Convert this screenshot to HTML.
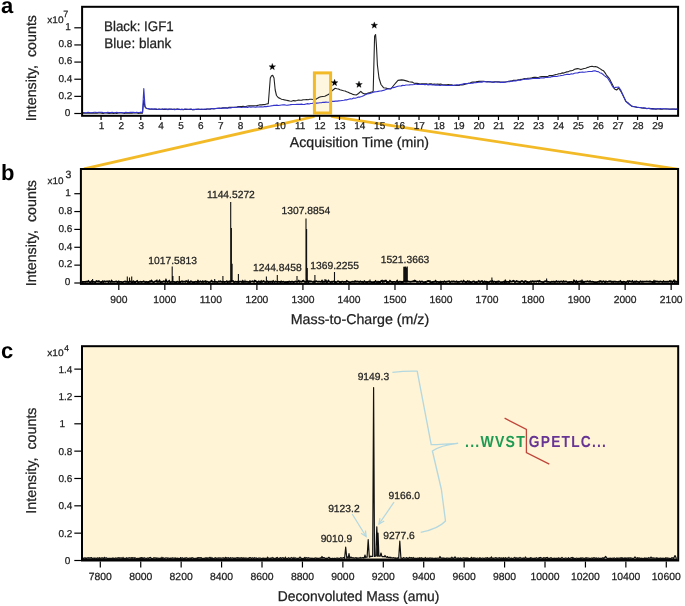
<!DOCTYPE html>
<html><head><meta charset="utf-8"><style>
html,body{margin:0;padding:0;background:#fff;}
body{width:685px;height:606px;overflow:hidden;}
svg{display:block;will-change:transform;}
text{font-family:"Liberation Sans",sans-serif;text-rendering:geometricPrecision;}
</style></head><body>
<svg width="685" height="606" viewBox="0 0 685 606">
<rect width="685" height="606" fill="#fff"/>
<text x="1" y="13" font-size="22" font-weight="bold" fill="#000">a</text>
<text x="1" y="180" font-size="22" font-weight="bold" fill="#000">b</text>
<text x="1" y="358" font-size="22" font-weight="bold" fill="#000">c</text>
<polyline points="314.5,116.5 84,168.9" stroke="#F3BA28" stroke-width="2.8" fill="none"/>
<polyline points="331,116.3 679,169.4" stroke="#F3BA28" stroke-width="2.8" fill="none"/>
<rect x="314.4" y="72.9" width="16.2" height="40.1" fill="#FFF6DF"/>
<polyline points="82,113.2 83.51,113.08 85.03,112.96 86.54,113.31 88.05,112.9 89.56,113.23 91.08,113.11 92.59,112.89 94.1,113.21 95.61,112.88 97.12,113.15 98.64,112.9 100.15,112.91 101.66,113.15 103.17,113.43 104.69,112.94 106.2,113.01 107.71,113.29 109.22,113.51 110.74,113.25 112.25,113.13 113.76,113.53 115.28,112.88 116.79,113.45 118.3,113.05 119.81,112.95 121.33,112.93 122.84,113.07 124.35,113.42 125.86,112.98 127.38,113.26 128.89,113.3 130.4,113.11 131.91,113.23 133.43,112.89 134.94,112.89 136.45,112.99 137.96,113.33 139.47,113.15 140.99,113.07 142.5,113.2 143.8,100 145,107 146.3,108.4 148.15,108.8 150,109.2 151.52,109.27 153.03,109.18 154.55,109.08 156.06,109.43 157.58,109.37 159.09,109.06 160.61,109.29 162.12,109.27 163.64,109.52 165.15,109.42 166.67,109.12 168.18,109.61 169.7,109.01 171.21,109.23 172.73,109.47 174.24,109.05 175.76,109.3 177.27,108.99 178.79,109.43 180.3,109.51 181.82,109.38 183.33,109.6 184.85,109.21 186.36,109.48 187.88,109.42 189.39,109.41 190.91,109.33 192.42,109.61 193.94,109.69 195.45,109.36 196.97,109.5 198.48,109.09 200,109.4 201.5,109.48 203,109.38 204.5,109.57 206,109.39 207.5,108.95 209,108.96 210.5,109.1 212,108.59 213.5,108.83 215,108.8 216.56,108.43 218.12,108.26 219.69,108.08 221.25,108.44 222.81,107.85 224.38,107.8 225.94,107.76 227.5,107.96 229.06,107.27 230.62,107.39 232.19,107.32 233.75,107.42 235.31,107.24 236.88,107.13 238.44,106.58 240,106.6 241.5,106.46 243,106.34 244.5,106.63 246,106.6 247.5,105.96 249,105.89 250.5,105.85 252,105.77 253.5,105.87 255,105.8 256.67,105.65 258.33,105.2 260,104.8 261.67,104.88 263.33,104.63 265,104.5 266.65,104.05 268.3,103.6 270.3,78 271.5,75.8 272.8,75.4 274,78 275.2,90 276.5,95.5 278.5,97.8 280,98.37 281.5,99.17 283,99.51 284.5,99.9 286.27,100.24 288.05,100.63 289.83,101 291.6,101.2 293.35,100.59 295.1,100.88 296.85,100.5 298.6,100 300.2,100.21 301.8,100.1 303.4,99.76 305,99.71 306.6,99.44 308.2,99.76 309.8,99.3 311.4,99.25 313,99.5 314.5,99.35 316,99.2 317.6,98.16 319.2,97.3 320.8,96.7 322.8,96.45 324.8,96.2 326.8,95.2 328.8,94.2 330.75,92.2 332.7,90.2 335.2,88.3 336.8,88.69 338.4,88.99 340,89.8 341.8,90.3 343.6,90.8 345.12,91.05 346.63,91.76 348.15,92.32 349.67,93.1 351.18,93.47 352.7,94.4 354.5,94.7 356.3,95 358.5,93.5 360.8,91.3 362.5,93 364.5,93.9 366.33,93.73 368.17,93.11 370,92.6 372.6,91.7 373.2,91.2 374.6,36 375.6,34.5 376.4,45 377.4,65 379,78 381,84.5 383.5,87.7 385.3,88.05 387.1,88.4 388.95,88.7 390.8,89 392.4,87 394,85 396,82.7 398,80.4 399.85,80.15 401.7,79.9 403.52,80.1 405.35,80.63 407.18,81.14 409,81.7 410.57,81.93 412.14,82.09 413.71,82.93 415.29,83.36 416.86,83.32 418.43,83.66 420,84 421.61,83.72 423.22,83.74 424.83,83.92 426.44,83.88 428.06,84.29 429.67,83.83 431.28,83.74 432.89,84.4 434.5,84.1 436.03,84.2 437.56,84.02 439.09,84.37 440.62,84.09 442.16,84.53 443.69,84.92 445.22,84.92 446.75,84.89 448.28,84.66 449.81,84.82 451.34,84.76 452.88,85.27 454.41,85.18 455.94,85.43 457.47,85.2 459,85.4 460.54,84.83 462.07,84.87 463.61,84.61 465.15,84.15 466.69,83.74 468.23,83.37 469.76,82.94 471.3,82.4 472.84,82.07 474.38,82.14 475.91,81.89 477.45,81.52 478.99,81.38 480.53,81.42 482.06,81.27 483.6,81.3 485.13,81.52 486.67,81.79 488.2,81.51 489.73,81.94 491.27,82.06 492.8,82.12 494.33,81.79 495.87,81.77 497.4,81.86 498.93,81.92 500.47,82.01 502,82.3 503.63,82.13 505.26,82.06 506.89,81.76 508.52,81.25 510.15,81.11 511.78,80.95 513.41,80.19 515.04,80.33 516.67,80.25 518.3,79.7 519.89,79.66 521.48,79.41 523.07,78.98 524.66,78.54 526.24,78.74 527.83,78.18 529.42,78.28 531.01,78.16 532.6,77.6 534.15,77.4 535.7,77.28 537.25,77.54 538.8,77.26 540.35,76.74 541.9,76.59 543.45,76.48 545,76.6 546.54,76.59 548.08,76.23 549.62,75.48 551.16,75.67 552.7,75.49 554.24,74.97 555.78,74.47 557.32,74.31 558.86,73.73 560.4,73.7 561.98,72.9 563.56,73.1 565.15,72.41 566.73,71.86 568.31,71.69 569.89,70.87 571.47,70.71 573.05,70.22 574.64,69.33 576.22,68.89 577.8,68.6 579.35,69.1 580.9,69.6 582.5,68.97 584.1,68.45 585.7,68.2 587.3,67.49 588.9,67.11 590.5,66.43 592.1,66.2 593.8,66.75 595.5,66.63 597.2,67 598.75,67.9 600.3,68.91 601.85,70.06 603.4,70.7 604.92,72.67 606.45,75.04 607.98,76.78 609.5,78.8 611.2,82.22 612.9,85.62 614.6,89 616.6,90 618.7,88 620.7,91.1 622.4,94.16 624.1,97.86 625.8,101.3 627.35,102.35 628.9,103.5 630.45,105.33 632,106.4 633.7,106.44 635.4,106.91 637.1,107.36 638.8,107.51 640.5,107.61 642.2,108 643.73,108.13 645.25,108.26 646.77,108.54 648.3,108.17 649.83,108.6 651.35,108.5 652.88,108.63 654.4,108.9 655.91,109.1 657.41,108.93 658.92,108.98 660.43,109.14 661.93,109.26 663.44,108.94 664.95,109.07 666.45,109.01 667.96,109.03 669.47,109.17 670.97,109.01 672.48,109.08 673.99,109.06 675.49,109.4 677,109.1" stroke="#222" stroke-width="1.1" fill="none" stroke-linejoin="round"/>
<polyline points="82,112.5 83.51,112.64 85.03,112.76 86.54,112.81 88.05,112.33 89.56,112.54 91.08,112.81 92.59,112.74 94.1,112.25 95.61,112.24 97.12,112.46 98.64,112.2 100.15,112.32 101.66,112.2 103.17,112.62 104.69,112.7 106.2,112.78 107.71,112.26 109.22,112.65 110.74,112.61 112.25,112.25 113.76,112.77 115.28,112.83 116.79,112.3 118.3,112.82 119.81,112.43 121.33,112.49 122.84,112.84 124.35,112.73 125.86,112.26 127.38,112.45 128.89,112.51 130.4,112.39 131.91,112.29 133.43,112.37 134.94,112.66 136.45,112.16 137.96,112.54 139.47,112.46 140.99,112.16 142.5,112.5 143.8,88.5 145,106.4 146.3,108.2 148.15,108.6 150,109 151.54,108.91 153.08,109.13 154.62,109.08 156.15,108.79 157.69,109.45 159.23,109.34 160.77,109.49 162.31,108.91 163.85,109.04 165.38,108.91 166.92,109.45 168.46,109.12 170,109.3 171.5,109.04 173,109.25 174.5,109.59 176,109.52 177.5,109.13 179,109.05 180.5,109.59 182,109.35 183.5,109.44 185,109.01 186.5,108.99 188,109.43 189.5,109.25 191,109 192.5,109.61 194,109.39 195.5,109.51 197,109.01 198.5,109.55 200,109.3 201.54,108.94 203.08,109.43 204.62,109.08 206.15,108.94 207.69,109.03 209.23,109.23 210.77,108.71 212.31,108.55 213.85,108.76 215.38,108.5 216.92,108.35 218.46,108.32 220,108.5 221.54,108.09 223.08,108.11 224.62,108.09 226.15,107.99 227.69,108.22 229.23,107.8 230.77,107.85 232.31,107.54 233.85,107.56 235.38,107.24 236.92,107.31 238.46,107.05 240,107.3 241.54,107.43 243.08,107.27 244.62,106.99 246.15,107.16 247.69,107.45 249.23,106.84 250.77,107.31 252.31,107.01 253.85,107.02 255.38,107.23 256.92,106.89 258.46,106.94 260,106.9 261.54,106.9 263.08,106.98 264.62,106.4 266.15,106.61 267.69,106.39 269.23,106.21 270.77,105.92 272.31,105.75 273.85,105.41 275.38,105.33 276.92,105.16 278.46,105.5 280,105.2 281.54,104.97 283.08,104.84 284.62,104.72 286.15,105.19 287.69,105.15 289.23,104.95 290.77,104.62 292.31,104.53 293.85,104.5 295.38,104.56 296.92,104.28 298.46,104.42 300,104.4 301.53,104.12 303.05,104.49 304.58,104.38 306.11,103.97 307.63,103.64 309.16,104.03 310.68,103.46 312.21,103.37 313.74,103.01 315.26,103.16 316.79,103.11 318.32,103.01 319.84,102.69 321.37,102.78 322.89,102.32 324.42,102.38 325.95,102.14 327.47,102.25 329,102.2 330.64,101.65 332.28,101.41 333.92,101.37 335.56,101.09 337.2,101.11 338.84,100.84 340.48,100.77 342.12,100.47 343.76,100.28 345.4,99.9 347.02,99.85 348.64,99.2 350.27,98.84 351.89,98.99 353.51,98.1 355.13,98.19 356.76,97.82 358.38,97.09 360,97.1 361.75,96.53 363.5,95.77 365.25,94.79 367,93.9 368.87,93.6 370.73,93.19 372.6,92.5 374.45,91.87 376.3,91.77 378.15,91.38 380,91 381.5,90.86 383,90.46 384.5,90.1 386,89.5 387.75,89.08 389.5,88.82 391.25,88.2 393,87.6 394.62,87.41 396.25,86.76 397.88,86.3 399.5,86.04 401.12,85.88 402.75,85.37 404.38,85.56 406,85 407.62,84.94 409.25,84.89 410.88,84.79 412.5,84.73 414.12,84.49 415.75,84.05 417.38,84.51 419,84.2 420.5,84.46 422,84.38 423.5,84.49 425,84.67 426.5,84.34 428,84.9 429.5,84.65 431,84.61 432.5,85 434.01,84.87 435.51,85.23 437.02,84.9 438.53,85.31 440.04,85.51 441.54,85.21 443.05,85.17 444.56,85.27 446.06,85.45 447.57,85.54 449.08,85.47 450.59,85.53 452.09,85.17 453.6,85.5 455.24,85.03 456.88,84.88 458.51,85 460.15,84.46 461.79,84.42 463.43,83.81 465.06,83.62 466.7,83.7 468.22,83.36 469.75,83.47 471.27,83.31 472.8,83.12 474.32,82.68 475.85,82.66 477.38,82.45 478.9,82.28 480.43,81.86 481.95,82.23 483.48,81.56 485,81.6 486.54,82 488.08,82.04 489.62,81.46 491.17,81.84 492.71,82.16 494.25,82.33 495.79,82.03 497.33,81.97 498.88,82 500.42,82.58 501.96,82.13 503.5,82.4 505.04,82.23 506.58,81.7 508.12,81.74 509.67,81.82 511.21,81.02 512.75,81.27 514.29,80.83 515.83,80.87 517.38,80.52 518.92,79.96 520.46,80.2 522,79.7 523.57,79.56 525.14,79.11 526.71,78.96 528.28,79.17 529.85,79.02 531.42,78.78 532.99,78.54 534.56,78.55 536.13,78.4 537.7,78.4 539.29,78.45 540.89,77.68 542.48,78.02 544.07,77.89 545.66,77.21 547.26,77.58 548.85,77.25 550.44,77.2 552.04,76.58 553.63,76.45 555.22,76.28 556.81,76.52 558.41,76.05 560,75.8 561.61,75.43 563.22,75.21 564.82,74.83 566.43,74.41 568.04,74.18 569.65,74.42 571.25,73.77 572.86,73.95 574.47,73.2 576.08,72.94 577.68,72.85 579.29,72.35 580.9,72.3 582.49,72.03 584.08,72.26 585.67,72.04 587.26,71.81 588.84,71.5 590.43,71.52 592.02,71.36 593.61,70.91 595.2,70.7 596.73,71.45 598.25,71.58 599.77,72.66 601.3,73.1 602.82,74.24 604.35,75.63 605.88,76.73 607.4,77.8 608.95,80.2 610.5,82.58 612.05,85.75 613.6,88 615.3,87.41 617,87.31 618.7,87 620.7,90 622.4,93.66 624.1,97.39 625.8,101.3 627.35,102.74 628.9,104.18 630.45,104.96 632,106.4 633.7,106.78 635.4,106.79 637.1,107.24 638.8,107.39 640.5,107.5 642.2,108 643.73,107.88 645.25,108.02 646.77,108.62 648.3,108.45 649.83,108.37 651.35,108.96 652.88,109.14 654.4,108.9 655.91,108.88 657.41,108.67 658.92,108.72 660.43,108.67 661.93,108.86 663.44,108.69 664.95,108.81 666.45,108.84 667.96,109.07 669.47,109.3 670.97,109.22 672.48,109 673.99,109.01 675.49,109.1 677,109.1" stroke="#3434CC" stroke-width="1.1" fill="none" stroke-linejoin="round"/>
<rect x="314.4" y="72.9" width="16.2" height="40.1" fill="none" stroke="#F3BA28" stroke-width="3"/>
<rect x="82.1" y="6.8" width="596" height="109" fill="none" stroke="#000" stroke-width="2"/>
<line x1="74.3" x2="81" y1="113.5" y2="113.5" stroke="#000" stroke-width="1.2"/>
<text x="70.2" y="115.8" font-size="10" text-anchor="end" fill="#222" stroke="#222" stroke-width="0.25">0</text>
<line x1="74.3" x2="81" y1="96.36" y2="96.36" stroke="#000" stroke-width="1.2"/>
<text x="72.4" y="98.66" font-size="10" text-anchor="end" fill="#222" stroke="#222" stroke-width="0.25">0.2</text>
<line x1="74.3" x2="81" y1="79.22" y2="79.22" stroke="#000" stroke-width="1.2"/>
<text x="72.4" y="81.52" font-size="10" text-anchor="end" fill="#222" stroke="#222" stroke-width="0.25">0.4</text>
<line x1="74.3" x2="81" y1="62.08" y2="62.08" stroke="#000" stroke-width="1.2"/>
<text x="72.4" y="64.38" font-size="10" text-anchor="end" fill="#222" stroke="#222" stroke-width="0.25">0.6</text>
<line x1="74.3" x2="81" y1="44.94" y2="44.94" stroke="#000" stroke-width="1.2"/>
<text x="72.4" y="47.24" font-size="10" text-anchor="end" fill="#222" stroke="#222" stroke-width="0.25">0.8</text>
<line x1="74.3" x2="81" y1="27.8" y2="27.8" stroke="#000" stroke-width="1.2"/>
<text x="65.2" y="30.1" font-size="10" fill="#222" stroke="#222" stroke-width="0.25">1</text>
<text x="47.3" y="22.7" font-size="9.5" textLength="16.3" lengthAdjust="spacingAndGlyphs" fill="#222" stroke="#222" stroke-width="0.25">x10</text>
<text x="63.2" y="17.2" font-size="9" fill="#222" stroke="#222" stroke-width="0.25">7</text>
<line x1="101.07" x2="101.07" y1="116" y2="120" stroke="#000" stroke-width="1.2"/>
<text x="101.47" y="129.3" font-size="10" text-anchor="middle" fill="#222" stroke="#222" stroke-width="0.25">1</text>
<line x1="120.94" x2="120.94" y1="116" y2="120" stroke="#000" stroke-width="1.2"/>
<text x="121.34" y="129.3" font-size="10" text-anchor="middle" fill="#222" stroke="#222" stroke-width="0.25">2</text>
<line x1="140.81" x2="140.81" y1="116" y2="120" stroke="#000" stroke-width="1.2"/>
<text x="141.21" y="129.3" font-size="10" text-anchor="middle" fill="#222" stroke="#222" stroke-width="0.25">3</text>
<line x1="160.68" x2="160.68" y1="116" y2="120" stroke="#000" stroke-width="1.2"/>
<text x="161.08" y="129.3" font-size="10" text-anchor="middle" fill="#222" stroke="#222" stroke-width="0.25">4</text>
<line x1="180.55" x2="180.55" y1="116" y2="120" stroke="#000" stroke-width="1.2"/>
<text x="180.95" y="129.3" font-size="10" text-anchor="middle" fill="#222" stroke="#222" stroke-width="0.25">5</text>
<line x1="200.42" x2="200.42" y1="116" y2="120" stroke="#000" stroke-width="1.2"/>
<text x="200.82" y="129.3" font-size="10" text-anchor="middle" fill="#222" stroke="#222" stroke-width="0.25">6</text>
<line x1="220.29" x2="220.29" y1="116" y2="120" stroke="#000" stroke-width="1.2"/>
<text x="220.69" y="129.3" font-size="10" text-anchor="middle" fill="#222" stroke="#222" stroke-width="0.25">7</text>
<line x1="240.16" x2="240.16" y1="116" y2="120" stroke="#000" stroke-width="1.2"/>
<text x="240.56" y="129.3" font-size="10" text-anchor="middle" fill="#222" stroke="#222" stroke-width="0.25">8</text>
<line x1="260.03" x2="260.03" y1="116" y2="120" stroke="#000" stroke-width="1.2"/>
<text x="260.43" y="129.3" font-size="10" text-anchor="middle" fill="#222" stroke="#222" stroke-width="0.25">9</text>
<line x1="279.9" x2="279.9" y1="116" y2="120" stroke="#000" stroke-width="1.2"/>
<text x="280.3" y="129.3" font-size="10" text-anchor="middle" fill="#222" stroke="#222" stroke-width="0.25">10</text>
<line x1="299.77" x2="299.77" y1="116" y2="120" stroke="#000" stroke-width="1.2"/>
<text x="300.17" y="129.3" font-size="10" text-anchor="middle" fill="#222" stroke="#222" stroke-width="0.25">11</text>
<line x1="319.64" x2="319.64" y1="116" y2="120" stroke="#000" stroke-width="1.2"/>
<text x="320.04" y="129.3" font-size="10" text-anchor="middle" fill="#222" stroke="#222" stroke-width="0.25">12</text>
<line x1="339.51" x2="339.51" y1="116" y2="120" stroke="#000" stroke-width="1.2"/>
<text x="339.91" y="129.3" font-size="10" text-anchor="middle" fill="#222" stroke="#222" stroke-width="0.25">13</text>
<line x1="359.38" x2="359.38" y1="116" y2="120" stroke="#000" stroke-width="1.2"/>
<text x="359.78" y="129.3" font-size="10" text-anchor="middle" fill="#222" stroke="#222" stroke-width="0.25">14</text>
<line x1="379.25" x2="379.25" y1="116" y2="120" stroke="#000" stroke-width="1.2"/>
<text x="379.65" y="129.3" font-size="10" text-anchor="middle" fill="#222" stroke="#222" stroke-width="0.25">15</text>
<line x1="399.12" x2="399.12" y1="116" y2="120" stroke="#000" stroke-width="1.2"/>
<text x="399.52" y="129.3" font-size="10" text-anchor="middle" fill="#222" stroke="#222" stroke-width="0.25">16</text>
<line x1="418.99" x2="418.99" y1="116" y2="120" stroke="#000" stroke-width="1.2"/>
<text x="419.39" y="129.3" font-size="10" text-anchor="middle" fill="#222" stroke="#222" stroke-width="0.25">17</text>
<line x1="438.86" x2="438.86" y1="116" y2="120" stroke="#000" stroke-width="1.2"/>
<text x="439.26" y="129.3" font-size="10" text-anchor="middle" fill="#222" stroke="#222" stroke-width="0.25">18</text>
<line x1="458.73" x2="458.73" y1="116" y2="120" stroke="#000" stroke-width="1.2"/>
<text x="459.13" y="129.3" font-size="10" text-anchor="middle" fill="#222" stroke="#222" stroke-width="0.25">19</text>
<line x1="478.6" x2="478.6" y1="116" y2="120" stroke="#000" stroke-width="1.2"/>
<text x="479" y="129.3" font-size="10" text-anchor="middle" fill="#222" stroke="#222" stroke-width="0.25">20</text>
<line x1="498.47" x2="498.47" y1="116" y2="120" stroke="#000" stroke-width="1.2"/>
<text x="498.87" y="129.3" font-size="10" text-anchor="middle" fill="#222" stroke="#222" stroke-width="0.25">21</text>
<line x1="518.34" x2="518.34" y1="116" y2="120" stroke="#000" stroke-width="1.2"/>
<text x="518.74" y="129.3" font-size="10" text-anchor="middle" fill="#222" stroke="#222" stroke-width="0.25">22</text>
<line x1="538.21" x2="538.21" y1="116" y2="120" stroke="#000" stroke-width="1.2"/>
<text x="538.61" y="129.3" font-size="10" text-anchor="middle" fill="#222" stroke="#222" stroke-width="0.25">23</text>
<line x1="558.08" x2="558.08" y1="116" y2="120" stroke="#000" stroke-width="1.2"/>
<text x="558.48" y="129.3" font-size="10" text-anchor="middle" fill="#222" stroke="#222" stroke-width="0.25">24</text>
<line x1="577.95" x2="577.95" y1="116" y2="120" stroke="#000" stroke-width="1.2"/>
<text x="578.35" y="129.3" font-size="10" text-anchor="middle" fill="#222" stroke="#222" stroke-width="0.25">25</text>
<line x1="597.82" x2="597.82" y1="116" y2="120" stroke="#000" stroke-width="1.2"/>
<text x="598.22" y="129.3" font-size="10" text-anchor="middle" fill="#222" stroke="#222" stroke-width="0.25">26</text>
<line x1="617.69" x2="617.69" y1="116" y2="120" stroke="#000" stroke-width="1.2"/>
<text x="618.09" y="129.3" font-size="10" text-anchor="middle" fill="#222" stroke="#222" stroke-width="0.25">27</text>
<line x1="637.56" x2="637.56" y1="116" y2="120" stroke="#000" stroke-width="1.2"/>
<text x="637.96" y="129.3" font-size="10" text-anchor="middle" fill="#222" stroke="#222" stroke-width="0.25">28</text>
<line x1="657.43" x2="657.43" y1="116" y2="120" stroke="#000" stroke-width="1.2"/>
<text x="657.83" y="129.3" font-size="10" text-anchor="middle" fill="#222" stroke="#222" stroke-width="0.25">29</text>
<text x="359.4" y="147.3" font-size="14.2" text-anchor="middle" textLength="139.3" lengthAdjust="spacingAndGlyphs" fill="#222" stroke="#222" stroke-width="0.25">Acquisition Time (min)</text>
<text x="104.1" y="30.9" font-size="14" textLength="69.6" lengthAdjust="spacingAndGlyphs" fill="#222" stroke="#222" stroke-width="0.25">Black: IGF1</text>
<text x="104.3" y="48.3" font-size="14" textLength="67" lengthAdjust="spacingAndGlyphs" fill="#222" stroke="#222" stroke-width="0.25">Blue: blank</text>
<polygon points="272.3,63.4 273.16,65.71 275.63,65.82 273.7,67.35 274.36,69.73 272.3,68.37 270.24,69.73 270.9,67.35 268.97,65.82 271.44,65.71" fill="#000" stroke="#000" stroke-width="0.3" stroke-linejoin="round"/>
<polygon points="334.6,79.3 335.46,81.61 337.93,81.72 336,83.25 336.66,85.63 334.6,84.27 332.54,85.63 333.2,83.25 331.27,81.72 333.74,81.61" fill="#000" stroke="#000" stroke-width="0.3" stroke-linejoin="round"/>
<polygon points="359,81.1 359.86,83.41 362.33,83.52 360.4,85.05 361.06,87.43 359,86.07 356.94,87.43 357.6,85.05 355.67,83.52 358.14,83.41" fill="#000" stroke="#000" stroke-width="0.3" stroke-linejoin="round"/>
<polygon points="374.3,21.9 375.16,24.21 377.63,24.32 375.7,25.85 376.36,28.23 374.3,26.87 372.24,28.23 372.9,25.85 370.97,24.32 373.44,24.21" fill="#000" stroke="#000" stroke-width="0.3" stroke-linejoin="round"/>
<text transform="translate(35.8,68.1) rotate(-90)" text-anchor="middle" font-size="14.3" fill="#222" stroke="#222" stroke-width="0.25">Intensity,&#160; counts</text>
<rect x="80.9" y="169" width="597.2" height="114.9" fill="#FFF4D6"/>
<path d="M230.7 282.5V202 M231.4 282.5V228 M232.1 282.5V263.8 M306 282.5V218.4 M306.6 282.5V229 M307.3 282.5V267.9 M172.2 282.5V266.5 M172.9 282.5V276 M334.5 282.5V272 M92.6 282.5V279 M127.3 282.5V276.6 M129.5 282.5V277.5 M131.7 282.5V276.6 M179.3 282.5V276 M188.3 282.5V279.4 M214.7 282.5V279 M222.9 282.5V276 M238.4 282.5V274 M266.4 282.5V276.5 M277.3 282.5V275 M297 282.5V276 M314.9 282.5V275 M491.9 282.5V277.5 M546.6 282.5V278.5 M157 282.5V279.5 M245 282.5V279.8 M325 282.5V279 M355 282.5V280 M370 282.5V279.5 M430 282.5V280 M600 282.5V280 M250 282.5V280 M403.8 282.5V266.87 M404.5 282.5V266.81 M405.2 282.5V266.39 M405.9 282.5V266.72 M406.6 282.5V267.75 M407.3 282.5V266.49" stroke="#111" stroke-width="1.1" fill="none"/>
<polyline points="82,281.35 82.8,282.18 83.6,281.93 84.4,281.88 85.2,282.14 86,281.75 86.8,281.67 87.6,281.82 88.4,281.08 89.2,281.87 90,282.11 90.8,282.11 91.6,281.28 92.4,282.01 93.2,281.66 94,281.79 94.8,282.19 95.6,282.19 96.4,281.13 97.2,281.34 98,281.66 98.8,281.15 99.6,281.75 100.4,282.12 101.2,281.93 102,281.98 102.8,281.3 103.6,282.07 104.4,281.3 105.2,281.86 106,281.59 106.8,281.38 107.6,281.47 108.4,282 109.2,281.18 110,281.94 110.8,282.05 111.6,280.86 112.4,281.89 113.2,281.8 114,281.88 114.8,281.87 115.6,281.59 116.4,281.5 117.2,282.03 118,282.05 118.8,281.42 119.6,282.08 120.4,281.87 121.2,281.92 122,282.13 122.8,282.15 123.6,281.99 124.4,281.57 125.2,281.37 126,281.98 126.8,281.69 127.6,281.75 128.4,282.16 129.2,281.75 130,281.29 130.8,281.97 131.6,282.16 132.4,282.08 133.2,281.3 134,282.19 134.8,281.79 135.6,281.98 136.4,281.52 137.2,281.01 138,282.18 138.8,282.04 139.6,281.87 140.4,281.67 141.2,282.04 142,281.84 142.8,281.91 143.6,281.26 144.4,281.79 145.2,282.19 146,281.69 146.8,282.1 147.6,282.01 148.4,281.81 149.2,282.02 150,281.2 150.8,281.79 151.6,280.78 152.4,281.81 153.2,282.19 154,282.1 154.8,281.59 155.6,281.46 156.4,280.94 157.2,281.84 158,281.72 158.8,281.83 159.6,280.62 160.4,282.08 161.2,282.05 162,281.64 162.8,281.98 163.6,281.2 164.4,281.46 165.2,281.97 166,280.13 166.8,281.71 167.6,281.98 168.4,281.65 169.2,280.91 170,282.2 170.8,282.05 171.6,281.9 172.4,281.7 173.2,281.82 174,281.82 174.8,282.18 175.6,282.16 176.4,282.1 177.2,281.65 178,281.9 178.8,282.11 179.6,281.8 180.4,282.11 181.2,281.51 182,281.33 182.8,281.92 183.6,281.63 184.4,281.55 185.2,281.99 186,281.26 186.8,281.23 187.6,282 188.4,281.67 189.2,282.08 190,282.11 190.8,281.27 191.6,281.62 192.4,282.18 193.2,282.03 194,281.99 194.8,282.15 195.6,281.79 196.4,281.98 197.2,282.18 198,280.92 198.8,281.95 199.6,281.79 200.4,281.4 201.2,281.98 202,282.13 202.8,281.25 203.6,282 204.4,281.76 205.2,281.19 206,282.18 206.8,281.46 207.6,281.77 208.4,282.08 209.2,282.15 210,282.13 210.8,281.52 211.6,280.77 212.4,281.8 213.2,281.85 214,281.9 214.8,281.57 215.6,281.9 216.4,281.86 217.2,282.03 218,281.88 218.8,281.27 219.6,281.74 220.4,281.27 221.2,281.78 222,281.87 222.8,281.96 223.6,281.68 224.4,282.15 225.2,281.96 226,281.87 226.8,281.25 227.6,282.2 228.4,281.98 229.2,281.46 230,282.04 230.8,281.43 231.6,280.71 232.4,280.87 233.2,281.01 234,282.18 234.8,281.95 235.6,281.62 236.4,281.8 237.2,282.04 238,281.57 238.8,282.14 239.6,281.58 240.4,281.55 241.2,281.58 242,282.19 242.8,281.04 243.6,282.04 244.4,281.94 245.2,281.93 246,281.78 246.8,281.67 247.6,281.96 248.4,282.17 249.2,281.8 250,282.19 250.8,281.75 251.6,281.49 252.4,281.18 253.2,281.73 254,281.95 254.8,280.71 255.6,281.06 256.4,281.77 257.2,282.18 258,281.89 258.8,281.38 259.6,281.92 260.4,282.18 261.2,281.1 262,282.02 262.8,281.48 263.6,281.08 264.4,281.72 265.2,282.07 266,281.92 266.8,281.94 267.6,281.42 268.4,282.07 269.2,281.68 270,281.95 270.8,281.76 271.6,281.71 272.4,282.13 273.2,281.16 274,281.93 274.8,282.11 275.6,281.51 276.4,281.73 277.2,282.08 278,281.64 278.8,281.94 279.6,281.89 280.4,282.17 281.2,281.39 282,281.97 282.8,281.87 283.6,281.67 284.4,282.16 285.2,282.03 286,281.85 286.8,282.05 287.6,281.83 288.4,281.99 289.2,281.47 290,281.94 290.8,282.09 291.6,281.6 292.4,281.74 293.2,282.03 294,282 294.8,281.72 295.6,281.41 296.4,281.79 297.2,281.94 298,281.67 298.8,280.81 299.6,281.9 300.4,281.48 301.2,281.81 302,281.71 302.8,280.87 303.6,280.68 304.4,281.94 305.2,281.9 306,282.14 306.8,281.8 307.6,280.91 308.4,282.15 309.2,281.21 310,281.69 310.8,281.17 311.6,281.51 312.4,281.85 313.2,282.11 314,281.44 314.8,282.13 315.6,281.37 316.4,281.18 317.2,281.49 318,281.76 318.8,281.71 319.6,281.68 320.4,281.9 321.2,281.81 322,280.84 322.8,282.02 323.6,281.66 324.4,281.76 325.2,281.67 326,280.73 326.8,282.1 327.6,281.9 328.4,280.67 329.2,281.63 330,282 330.8,282.18 331.6,281.67 332.4,281.93 333.2,281.51 334,281.73 334.8,282.04 335.6,281.88 336.4,282.11 337.2,281.79 338,281.24 338.8,281.54 339.6,282.02 340.4,281.86 341.2,282.08 342,281.61 342.8,281.61 343.6,282.13 344.4,281.88 345.2,281.88 346,282 346.8,280.94 347.6,281.45 348.4,282 349.2,282.19 350,282.03 350.8,282.04 351.6,281.94 352.4,281.59 353.2,281.76 354,281.84 354.8,281.83 355.6,281.5 356.4,281.82 357.2,281.41 358,281.8 358.8,281.59 359.6,281.99 360.4,281.38 361.2,282.08 362,281.76 362.8,282.17 363.6,282.11 364.4,281.16 365.2,281.84 366,282.1 366.8,281.92 367.6,282.15 368.4,281.76 369.2,281.74 370,281.66 370.8,281.85 371.6,282.03 372.4,282.19 373.2,282.04 374,282.01 374.8,282.09 375.6,281.17 376.4,282 377.2,282.19 378,281.62 378.8,282.19 379.6,281.89 380.4,282.1 381.2,280.95 382,280.64 382.8,282.08 383.6,281.1 384.4,281.61 385.2,280.61 386,280.7 386.8,282.12 387.6,281.89 388.4,282.02 389.2,281.87 390,280.85 390.8,281.69 391.6,281.98 392.4,282.19 393.2,281.85 394,281.82 394.8,281.91 395.6,282.07 396.4,281.89 397.2,280.85 398,282.18 398.8,282.08 399.6,281.75 400.4,281.67 401.2,282.18 402,281.83 402.8,282.11 403.6,281.45 404.4,281.01 405.2,281.65 406,281.05 406.8,281.69 407.6,281.28 408.4,281.65 409.2,281.71 410,281.83 410.8,281.77 411.6,281.67 412.4,281.65 413.2,281.11 414,281.6 414.8,280.7 415.6,281.05 416.4,281.79 417.2,281.76 418,282.06 418.8,281.75 419.6,281.41 420.4,282.15 421.2,281.55 422,281.41 422.8,281.85 423.6,282.07 424.4,282.19 425.2,282.01 426,282.01 426.8,281.78 427.6,281.09 428.4,280.88 429.2,281.44 430,281.74 430.8,282.19 431.6,282.17 432.4,281.87 433.2,282.13 434,281.72 434.8,281.77 435.6,280.93 436.4,282.1 437.2,281.91 438,281.88 438.8,282.13 439.6,282.1 440.4,281.64 441.2,282.19 442,281.76 442.8,281.85 443.6,282.07 444.4,281.42 445.2,281.86 446,281.98 446.8,281.72 447.6,281.72 448.4,281.27 449.2,281.14 450,282.19 450.8,281.86 451.6,281.49 452.4,281.72 453.2,281.48 454,281.44 454.8,281.82 455.6,281.93 456.4,281.34 457.2,282.14 458,281.68 458.8,281.99 459.6,281.8 460.4,281.69 461.2,281.3 462,281.82 462.8,282.19 463.6,280.9 464.4,281.49 465.2,282 466,281.83 466.8,281.95 467.6,281.23 468.4,281.83 469.2,281.44 470,282.14 470.8,281.89 471.6,282.08 472.4,281.94 473.2,281.42 474,281.34 474.8,282.16 475.6,282.06 476.4,281.86 477.2,282.02 478,281.73 478.8,281 479.6,281.82 480.4,282 481.2,281.27 482,281.04 482.8,282.15 483.6,282.18 484.4,281.53 485.2,282.17 486,281.54 486.8,282.16 487.6,281.92 488.4,282.18 489.2,282.03 490,281.69 490.8,281.34 491.6,281.81 492.4,281.11 493.2,282.09 494,281.74 494.8,281.59 495.6,281.99 496.4,282.03 497.2,281.49 498,282.12 498.8,281.34 499.6,281.79 500.4,282.11 501.2,282.12 502,282.13 502.8,282.17 503.6,281.76 504.4,282.14 505.2,280.76 506,282.19 506.8,281.67 507.6,281.81 508.4,281.83 509.2,282.11 510,280.89 510.8,281.57 511.6,281.53 512.4,281.35 513.2,280.76 514,281.07 514.8,281.98 515.6,281.82 516.4,281.08 517.2,281.31 518,281.83 518.8,281.73 519.6,281.98 520.4,282 521.2,281.39 522,281.04 522.8,281.58 523.6,282.11 524.4,282.09 525.2,281.12 526,281.34 526.8,282.01 527.6,281.93 528.4,282.03 529.2,282.17 530,281.9 530.8,281.4 531.6,281.88 532.4,281.27 533.2,281.47 534,281.88 534.8,281.48 535.6,281.36 536.4,281.66 537.2,281.05 538,281.1 538.8,281.71 539.6,280.96 540.4,281.46 541.2,281.88 542,281.95 542.8,282.08 543.6,282.1 544.4,281.57 545.2,281.3 546,281.45 546.8,281.36 547.6,281.87 548.4,281.84 549.2,281.98 550,282.04 550.8,282.18 551.6,281.79 552.4,281.93 553.2,281.63 554,281.74 554.8,282.14 555.6,282.01 556.4,281.27 557.2,281.84 558,281.81 558.8,281.51 559.6,282.04 560.4,281.7 561.2,281.53 562,281.59 562.8,282.08 563.6,281.25 564.4,281.8 565.2,281.66 566,281.43 566.8,281.79 567.6,282.1 568.4,282.03 569.2,282 570,282.04 570.8,281.87 571.6,281.8 572.4,282.2 573.2,282.07 574,280.55 574.8,281.5 575.6,282.18 576.4,281.13 577.2,282.14 578,281.92 578.8,281.56 579.6,281.55 580.4,281.27 581.2,282.1 582,280.76 582.8,282.11 583.6,281.79 584.4,281.98 585.2,281.53 586,281.54 586.8,281.66 587.6,281.28 588.4,281.69 589.2,281.86 590,281.2 590.8,281.81 591.6,281.79 592.4,281.71 593.2,281.85 594,282 594.8,282.04 595.6,282.1 596.4,282.11 597.2,282.07 598,281.75 598.8,281.62 599.6,281.79 600.4,281.3 601.2,281.34 602,282.13 602.8,281.54 603.6,281.21 604.4,282 605.2,282.18 606,281.34 606.8,281.89 607.6,281.77 608.4,281.55 609.2,281.24 610,281.68 610.8,281.36 611.6,281.89 612.4,281.64 613.2,282.08 614,281.42 614.8,281.73 615.6,281.72 616.4,281.87 617.2,281.91 618,282.02 618.8,281.73 619.6,281.86 620.4,281.09 621.2,282 622,281.91 622.8,282.19 623.6,281.67 624.4,281.85 625.2,282.15 626,282.02 626.8,281.86 627.6,281.24 628.4,282.05 629.2,280.97 630,281.28 630.8,281.73 631.6,281.85 632.4,281.14 633.2,282.09 634,282.13 634.8,281.56 635.6,281.92 636.4,281.39 637.2,281.88 638,281.95 638.8,282.08 639.6,282.1 640.4,281.34 641.2,281.57 642,281.95 642.8,281.54 643.6,281.75 644.4,281.71 645.2,281.69 646,281.57 646.8,281.39 647.6,281.64 648.4,281.67 649.2,281.85 650,281.31 650.8,281.75 651.6,281.82 652.4,281.99 653.2,281.99 654,280.98 654.8,282.06 655.6,281.28 656.4,281.66 657.2,281.48 658,281.78 658.8,281.69 659.6,281.87 660.4,281.42 661.2,281.69 662,281.84 662.8,282.01 663.6,281.27 664.4,281.89 665.2,281.87 666,281.61 666.8,281.89 667.6,281.76 668.4,281.77 669.2,281.57 670,280.97 670.8,281.84 671.6,281.4 672.4,282.1 673.2,281.61 674,280.58 674.8,282.1 675.6,281.47 676.4,282.02 677.2,281.64 678,281.31" stroke="#000" stroke-width="1.8" fill="none"/>
<rect x="80.9" y="169" width="597.2" height="114.9" fill="none" stroke="#000" stroke-width="2"/>
<line x1="74.3" x2="81" y1="283" y2="283" stroke="#000" stroke-width="1.2"/>
<text x="70.2" y="285.3" font-size="10" text-anchor="end" fill="#222" stroke="#222" stroke-width="0.25">0</text>
<line x1="74.3" x2="81" y1="265.14" y2="265.14" stroke="#000" stroke-width="1.2"/>
<text x="72.4" y="267.44" font-size="10" text-anchor="end" fill="#222" stroke="#222" stroke-width="0.25">0.2</text>
<line x1="74.3" x2="81" y1="247.28" y2="247.28" stroke="#000" stroke-width="1.2"/>
<text x="72.4" y="249.58" font-size="10" text-anchor="end" fill="#222" stroke="#222" stroke-width="0.25">0.4</text>
<line x1="74.3" x2="81" y1="229.42" y2="229.42" stroke="#000" stroke-width="1.2"/>
<text x="72.4" y="231.72" font-size="10" text-anchor="end" fill="#222" stroke="#222" stroke-width="0.25">0.6</text>
<line x1="74.3" x2="81" y1="211.56" y2="211.56" stroke="#000" stroke-width="1.2"/>
<text x="72.4" y="213.86" font-size="10" text-anchor="end" fill="#222" stroke="#222" stroke-width="0.25">0.8</text>
<line x1="74.3" x2="81" y1="193.7" y2="193.7" stroke="#000" stroke-width="1.2"/>
<text x="65.2" y="196" font-size="10" fill="#222" stroke="#222" stroke-width="0.25">1</text>
<text x="47.5" y="184.4" font-size="9.5" textLength="16" lengthAdjust="spacingAndGlyphs" fill="#222" stroke="#222" stroke-width="0.25">x10</text>
<text x="65.6" y="177.9" font-size="10.5" fill="#222" stroke="#222" stroke-width="0.25">3</text>
<line x1="118.8" x2="118.8" y1="284" y2="290" stroke="#000" stroke-width="1.2"/>
<text x="118.8" y="302.5" font-size="10.3" text-anchor="middle" fill="#222" stroke="#222" stroke-width="0.25">900</text>
<line x1="164.83" x2="164.83" y1="284" y2="290" stroke="#000" stroke-width="1.2"/>
<text x="164.83" y="302.5" font-size="10.3" text-anchor="middle" fill="#222" stroke="#222" stroke-width="0.25">1000</text>
<line x1="210.86" x2="210.86" y1="284" y2="290" stroke="#000" stroke-width="1.2"/>
<text x="210.86" y="302.5" font-size="10.3" text-anchor="middle" fill="#222" stroke="#222" stroke-width="0.25">1100</text>
<line x1="256.89" x2="256.89" y1="284" y2="290" stroke="#000" stroke-width="1.2"/>
<text x="256.89" y="302.5" font-size="10.3" text-anchor="middle" fill="#222" stroke="#222" stroke-width="0.25">1200</text>
<line x1="302.92" x2="302.92" y1="284" y2="290" stroke="#000" stroke-width="1.2"/>
<text x="302.92" y="302.5" font-size="10.3" text-anchor="middle" fill="#222" stroke="#222" stroke-width="0.25">1300</text>
<line x1="348.95" x2="348.95" y1="284" y2="290" stroke="#000" stroke-width="1.2"/>
<text x="348.95" y="302.5" font-size="10.3" text-anchor="middle" fill="#222" stroke="#222" stroke-width="0.25">1400</text>
<line x1="394.98" x2="394.98" y1="284" y2="290" stroke="#000" stroke-width="1.2"/>
<text x="394.98" y="302.5" font-size="10.3" text-anchor="middle" fill="#222" stroke="#222" stroke-width="0.25">1500</text>
<line x1="441.01" x2="441.01" y1="284" y2="290" stroke="#000" stroke-width="1.2"/>
<text x="441.01" y="302.5" font-size="10.3" text-anchor="middle" fill="#222" stroke="#222" stroke-width="0.25">1600</text>
<line x1="487.04" x2="487.04" y1="284" y2="290" stroke="#000" stroke-width="1.2"/>
<text x="487.04" y="302.5" font-size="10.3" text-anchor="middle" fill="#222" stroke="#222" stroke-width="0.25">1700</text>
<line x1="533.07" x2="533.07" y1="284" y2="290" stroke="#000" stroke-width="1.2"/>
<text x="533.07" y="302.5" font-size="10.3" text-anchor="middle" fill="#222" stroke="#222" stroke-width="0.25">1800</text>
<line x1="579.1" x2="579.1" y1="284" y2="290" stroke="#000" stroke-width="1.2"/>
<text x="579.1" y="302.5" font-size="10.3" text-anchor="middle" fill="#222" stroke="#222" stroke-width="0.25">1900</text>
<line x1="625.13" x2="625.13" y1="284" y2="290" stroke="#000" stroke-width="1.2"/>
<text x="625.13" y="302.5" font-size="10.3" text-anchor="middle" fill="#222" stroke="#222" stroke-width="0.25">2000</text>
<line x1="671.16" x2="671.16" y1="284" y2="290" stroke="#000" stroke-width="1.2"/>
<text x="671.16" y="302.5" font-size="10.3" text-anchor="middle" fill="#222" stroke="#222" stroke-width="0.25">2100</text>
<text x="360" y="323.9" font-size="14.2" text-anchor="middle" textLength="138.5" lengthAdjust="spacingAndGlyphs" fill="#222" stroke="#222" stroke-width="0.25">Mass-to-Charge (m/z)</text>
<text x="230.9" y="198" font-size="10.3" text-anchor="middle" fill="#222" stroke="#222" stroke-width="0.25">1144.5272</text>
<text x="305.8" y="214.2" font-size="10.3" text-anchor="middle" fill="#222" stroke="#222" stroke-width="0.25">1307.8854</text>
<text x="172.6" y="263.8" font-size="10.3" text-anchor="middle" fill="#222" stroke="#222" stroke-width="0.25">1017.5813</text>
<text x="277.3" y="270.9" font-size="10.3" text-anchor="middle" fill="#222" stroke="#222" stroke-width="0.25">1244.8458</text>
<text x="334.6" y="268.9" font-size="10.3" text-anchor="middle" fill="#222" stroke="#222" stroke-width="0.25">1369.2255</text>
<text x="405" y="263" font-size="10.3" text-anchor="middle" fill="#222" stroke="#222" stroke-width="0.25">1521.3663</text>
<text transform="translate(35.8,233.1) rotate(-90)" text-anchor="middle" font-size="14.3" fill="#222" stroke="#222" stroke-width="0.25">Intensity,&#160; counts</text>
<rect x="82" y="346.2" width="596.2" height="214.3" fill="#FFF4D6"/>
<polyline points="83,558.04 83.5,558.38 84,558.07 84.5,558.21 85,557.83 85.5,558.4 86,557.89 86.5,558.55 87,558.31 87.5,558.07 88,557.57 88.5,557.95 89,558.41 89.5,557.86 90,557.94 90.5,558.07 91,557.56 91.5,557.6 92,558.49 92.5,558.47 93,558.52 93.5,558.1 94,558.08 94.5,558.56 95,557.92 95.5,558.23 96,558.37 96.5,558.29 97,558.47 97.5,557.79 98,558.03 98.5,558.37 99,558.43 99.5,557.72 100,558.33 100.5,558.38 101,558 101.5,557.97 102,558.34 102.5,557.94 103,557.97 103.5,558.48 104,558.41 104.5,557.33 105,558.17 105.5,558.03 106,558.21 106.5,557.76 107,558.19 107.5,558.52 108,558.35 108.5,558.52 109,558.36 109.5,558.2 110,558.37 110.5,558.28 111,558.33 111.5,558.33 112,558.31 112.5,558.46 113,557.8 113.5,558.59 114,558.53 114.5,558.23 115,558.42 115.5,558.06 116,557.96 116.5,558.29 117,558.34 117.5,558.2 118,557.72 118.5,558.17 119,557.72 119.5,558.27 120,557.87 120.5,558.11 121,558 121.5,557.87 122,558.54 122.5,558.54 123,557.37 123.5,558.51 124,558.39 124.5,558.29 125,558.38 125.5,558.43 126,558.51 126.5,557.74 127,558.44 127.5,558.36 128,557.87 128.5,558.1 129,558.08 129.5,557.68 130,557.92 130.5,558.05 131,558.08 131.5,557.68 132,558.37 132.5,557.67 133,558.35 133.5,557.87 134,557.79 134.5,558.44 135,557.64 135.5,558.21 136,558.23 136.5,558.47 137,558.57 137.5,558.33 138,558.43 138.5,558.59 139,558.33 139.5,558.54 140,558.01 140.5,558.57 141,557.63 141.5,558.35 142,557.64 142.5,558.56 143,557.97 143.5,558.47 144,558.11 144.5,557.77 145,558.23 145.5,558.23 146,558.41 146.5,558.55 147,558.14 147.5,558.06 148,557.93 148.5,558.48 149,558.12 149.5,557.54 150,557.92 150.5,557.36 151,558.03 151.5,558.56 152,558.49 152.5,558.52 153,558.46 153.5,557.91 154,558.07 154.5,557.76 155,558.22 155.5,558.18 156,557.75 156.5,558.46 157,558.47 157.5,558.08 158,558.04 158.5,558.3 159,558.41 159.5,558.23 160,558.36 160.5,558.15 161,558.2 161.5,558.59 162,557.24 162.5,558.55 163,558.1 163.5,557.87 164,558.39 164.5,558.22 165,558.4 165.5,557.97 166,558.02 166.5,557.94 167,557.82 167.5,558.4 168,558.13 168.5,558.19 169,558.2 169.5,558.47 170,558.28 170.5,558.59 171,558 171.5,558.28 172,558.12 172.5,557.86 173,558.02 173.5,558.23 174,558.08 174.5,558.13 175,558.38 175.5,557.96 176,558.45 176.5,558.29 177,558.32 177.5,558.12 178,558.58 178.5,558.37 179,558.54 179.5,558.48 180,558.43 180.5,557.51 181,558.33 181.5,558.2 182,558.21 182.5,557.81 183,558.24 183.5,558.45 184,558.43 184.5,558.1 185,558.38 185.5,558.12 186,557.87 186.5,557.69 187,557.99 187.5,558.38 188,558.36 188.5,558.54 189,558.36 189.5,557.99 190,558.13 190.5,558.33 191,558.11 191.5,558.56 192,557.61 192.5,557.96 193,558.04 193.5,558.53 194,558.4 194.5,558.48 195,558.39 195.5,558.33 196,558.55 196.5,558.53 197,557.84 197.5,558.58 198,557.66 198.5,557.7 199,558.3 200,557.5 201,558.3 201.4,557.74 201.9,558.07 202.4,558.53 202.9,558.53 203.4,558.53 203.9,558.23 204.4,558.57 204.9,558.28 205.4,557.78 205.9,558.33 206.4,558.38 206.9,557.64 207.4,558.57 207.9,558.39 208.4,558.06 208.9,558.03 209.4,557.47 209.9,558.32 210.4,558.57 210.9,557.31 211.4,558.58 211.9,558.53 212.4,557.88 212.9,558.53 213.4,558.52 213.9,558.41 214.4,558.3 214.9,557.85 215.4,558.1 215.9,557.74 216.4,558.43 216.9,558.58 217.4,558.16 217.9,558.12 218.4,557.9 218.9,558.32 219.4,558.05 219.9,557.89 220.4,558.13 220.9,558.06 221.4,558.24 221.9,558.22 222.4,557.94 222.9,558.02 223.4,557.78 223.9,558.3 224.4,558.22 224.9,558.43 225.4,557.35 225.9,558.1 226.4,558.33 226.9,557.7 227.4,558.26 227.9,558.01 228.4,557.67 228.9,558.47 229.4,558.25 229.9,558.35 230.4,557.66 230.9,558.15 231.4,558.06 231.9,558.07 232.4,557.75 232.9,557.96 233.4,558.46 233.9,558.22 234.4,558.21 234.9,558.6 235.4,558.01 235.9,558.29 236.4,558.18 236.9,557.64 237.4,557.69 237.9,558.35 238.4,558.22 238.9,557.67 239.4,558.24 239.9,558.43 240.4,558.06 240.9,557.87 241.4,558.16 241.9,557.59 242.4,558.48 242.9,558.43 243.4,557.76 243.9,558.3 244.4,558.34 244.9,557.81 245.4,558.27 245.9,558.45 246.4,558.01 246.9,558.13 247.4,558.27 247.9,558.53 248.4,558.58 248.9,557.77 249,558.3 250,557.5 251,558.3 251.4,558.46 251.9,558.06 252.4,557.83 252.9,558.13 253.4,558.55 253.9,558.24 254.4,557.66 254.9,558.09 255.4,558.14 255.9,558.2 256.4,557.94 256.9,558.5 257.4,558.48 257.9,558.3 258.4,558.27 258.9,557.9 259.4,558.18 259.9,558.11 260.4,558.11 260.9,558.25 261.4,558.51 261.9,558.48 262.4,558.12 262.9,558.59 263.4,558.04 263.9,558.16 264.4,558.53 264.9,558.32 265.4,558.22 265.9,558.34 266.4,558.5 266.9,558.59 267.4,557.11 267.9,558.28 268.4,558.22 268.9,558.17 269.4,558.24 269.9,558.44 270.4,558.5 270.9,558.08 271.4,557.79 271.9,558.32 272.4,558.06 272.9,557.43 273.4,558.6 273.9,558.46 274.4,558.5 274.9,558.3 275.4,558.46 275.9,558.52 276.4,557.65 276.9,558.24 277.4,557.43 277.9,558.29 278.4,558.45 278.9,558.5 279.4,558.19 279.9,558.31 280.4,557.68 280.9,557.73 281.4,558.57 281.9,557.96 282.4,557.81 282.9,557.63 283.4,558.36 283.9,558.16 284.4,558.32 284.9,558.51 285.4,557.09 285.9,558.27 286.4,558.58 286.9,558.46 287.4,558.58 287.9,558.13 288.4,557.71 288.9,557.98 289.4,558.52 289.9,558.47 290.4,558.42 290.9,557.83 291.4,557.72 291.9,557.44 292.4,558.34 292.9,558.5 293.4,558.56 293.9,557.42 294.4,558.41 294.9,558.22 295.4,557.89 295.9,558.14 296.4,558.25 296.9,558.33 297.4,558.59 297.9,558.34 298.4,558.3 298.9,558.56 299,558.3 300,557 301,558.3 301.4,558.58 301.9,558.32 302.4,558.57 302.9,558.53 303.4,558.53 303.9,558.28 304.4,557.48 304.9,558.34 305.4,558.39 305.9,557.45 306.4,557.9 306.9,557.82 307.4,558.25 307.9,558.18 308.4,557.66 308.9,557.94 309.4,558.21 309.9,558.01 310.4,558.16 310.9,558.47 311.4,558.35 311.9,558.09 312.4,558.41 312.9,558.4 313.4,558.57 313.9,558.43 314.4,558.46 314.9,557.98 315.4,557.98 315.9,557.8 316.4,558.55 316.9,558.09 317.4,558.38 317.9,558.27 318.4,558.36 318.9,558.22 319.4,558.31 319.9,558.09 320.4,558.15 320.9,557.62 321.1,558.3 322,556.5 322.9,558.3 323.3,557.56 323.8,557.69 324.3,557.61 324.8,558.23 325.3,558.43 325.8,558.3 326.3,558.19 326.8,558.54 327.3,558.58 327.8,558.26 328.3,557.59 328.8,557.44 329.3,557.46 329.8,558.59 330.3,558.26 330.8,558.36 331.3,558.46 331.8,558.49 332.3,558.54 332.8,558.19 333.3,558.51 333.8,558.58 334.3,558.43 334.8,558.16 335.3,558.57 335.8,558.56 336.3,558.28 336.8,558.04 337.3,558.35 337.8,558.05 338.3,558.23 338.8,558.32 339.3,558.23 339.8,558.33 340.3,558.04 340.8,557.59 341.3,558.23 341.8,557.93 342.3,558.01 342.8,558.03 343.3,557.6 343.8,557.62 344.3,557.86 344.6,558.3 345.7,547.2 346.8,558.3 347.2,557.28 347.7,557 348.2,558.29 349,553.6 349.8,558.29 350.2,557.21 350.7,557.52 351.2,557.22 351.7,557.84 352.2,557.79 352.7,557.98 353.2,557.59 353.7,558.13 354.2,558.05 354.7,558.09 355.2,557.88 355.7,557.79 356.2,557.53 356.7,558.3 357.2,558.39 357.7,557.92 358.2,558.1 358.7,558.12 359.2,558.1 359.7,557.99 360.2,557.47 360.7,558.11 361.2,558.06 361.7,557.78 362.2,557.72 362.7,557.56 363.2,558.1 363.7,557.5 364.2,557.81 364.3,557.62 365,555 365.7,557.62 366.1,557.2 366.6,557.16 367.1,557.17 368.2,539.7 369.3,557.17 369.7,556.83 370.2,556.24 370.7,556.74 371.2,556.29 371.7,556.32 372.2,556.29 372.7,555.85 372.7,556.38 373.6,387.6 374.5,556.38 374.9,556.16 375.4,555.94 375.8,556.12 376.8,526.8 377.8,556.12 377.1,556.1 378,533 378.9,556.1 379.3,556.26 379.8,555.84 380.2,556.23 381,553 381.8,556.23 382.2,556.6 382.7,556.61 383.2,556.75 383.7,556.5 384.2,556.84 384.3,556.73 385,555.5 385.7,556.73 386.1,557.11 386.6,557.07 387.1,557.36 387.6,556.52 388.1,557.3 388.6,557.55 389.1,557.56 389.6,557.42 390.1,557.13 390.6,557.79 391.1,557.39 391.6,557.71 392.1,557.98 392.6,557.88 393.1,557.61 393.6,557.61 394.1,557.99 394.6,558.2 395.1,557.72 395.6,558.32 396.1,558.33 396.6,558.15 397.1,558.2 397.6,558.3 398.1,557.63 398.6,557.94 398.7,558.22 399.8,541.2 400.9,558.22 401.3,558.16 401.8,558.04 402.3,558.56 402.8,558.27 403.3,558.03 403.8,557.53 404.3,558.18 404.8,558.25 405.3,558.26 405.8,558.07 406.3,557.65 406.8,557.87 407.3,558.52 407.8,558.15 408.3,558.57 408.8,558.15 409.3,557.3 409.8,558.04 410.3,558.23 410.8,557.56 411.3,558.21 411.8,557.71 412.3,558.03 412.8,558.4 413.3,557.47 413.8,558.29 414.3,558.6 414.8,558.08 415.3,558.28 415.8,558.25 416.3,558.41 416.8,558.56 417.3,558.06 417.8,558.36 418.3,558.33 418.8,558.56 419.3,557.75 419.8,558.44 420.3,557.95 420.8,558.33 421.3,558.22 421.8,557.63 422.3,558.5 422.8,558.51 423.3,558.35 423.8,558.29 424.3,558.43 424.8,558.24 425.3,557.5 425.8,558.3 426.3,558.33 426.8,558.34 427.3,558.07 427.8,558.53 428.3,558.21 428.8,558.47 429.3,558.35 429.8,557.92 430.3,558.11 430.8,558.14 431.3,558.02 431.8,558.44 432.3,558.54 432.8,558.04 433.3,558.32 433.8,558.54 434.3,558.41 434.8,558.41 435.3,558.46 435.8,558.11 436.3,558.51 436.8,558.24 437.3,558.06 437.8,558.27 438.3,558.23 438.8,558.02 439.1,558.3 440,556.5 440.9,558.3 441.3,557.94 441.8,558.29 442.3,558.36 442.8,557.85 443.3,557.99 443.8,558.45 444.3,558.17 444.8,558.23 445.3,558.46 445.8,558.25 446.3,558.49 446.8,558.01 447.3,558.11 447.8,558.16 448.3,558.13 448.8,558.57 449.3,558.36 449.8,558.32 450.3,558.06 450.8,558.4 451.3,558.28 451.8,557.15 452.3,558.36 452.8,557.77 453.3,558.5 453.8,558.44 454,558.3 455,556.8 456,558.3 456.4,558.23 456.9,558.21 457.4,558.14 457.9,558.41 458.4,557.84 458.9,558.3 459.4,558.32 459.9,558.37 460.4,557.81 460.9,558.39 461.4,558.34 461.9,558.23 462.4,558.15 462.9,558 463.4,557.87 463.9,557.95 464.4,558.34 464.9,558.06 465.4,558.54 465.9,557.78 466.4,558.57 466.9,558.03 467.4,558.43 467.9,557.83 468.4,558.38 468.9,558.47 469.4,558.57 469.9,558.57 470.4,558.53 470.9,557.94 471.4,557.32 471.9,558.58 472.4,558.13 472.9,558.37 473.4,558.39 473.9,557.61 474.4,558.22 474.9,558.29 475.4,558.07 475.9,558.44 476.4,558.53 476.9,558.19 477.4,558.11 477.9,558.2 478.4,558.27 478.9,558.31 479.4,558.38 479.9,557.65 480.4,558.06 480.9,558.6 481.4,558.43 481.9,558.21 482.4,558.2 482.9,558.08 483.4,558.41 483.9,558.49 484.4,558.21 484.9,558.39 485.4,558.07 485.9,557.81 486.4,558.27 486.9,558.51 487.4,557.62 487.9,558.11 488.4,558.44 488.9,558.59 489.4,558.06 489.9,558.37 490.4,557.84 490.9,558.19 491.4,556.86 491.9,558.17 492.4,558 492.9,558.53 493.4,558.4 493.9,558.14 494.4,558.18 494.9,558.08 495.4,557.88 495.9,557.62 496.4,558.33 496.9,558.05 497.4,558.21 497.9,558.32 498.4,558.08 498.9,558.23 499.4,557.68 499.9,558.14 500.4,558.04 500.9,558.47 501.4,557.95 501.9,558.34 502.4,558.14 502.9,558.59 503.4,557.7 503.9,558.43 504.4,558.39 504.9,558.22 505.4,557.67 505.9,558.47 506.4,558.36 506.9,558.58 507.4,558 507.9,558.13 508.4,557.95 508.9,557.23 509.4,558.2 509.9,558.26 510.4,558.37 510.9,558.26 511.4,558.01 511.9,558.56 512.4,558.48 512.9,558.31 513.4,558.13 513.9,558.1 514.4,557.64 514.9,557.33 515.4,558.5 515.9,558.49 516.4,557.85 516.9,558.14 517.4,558.33 517.9,557.88 518.4,558.17 518.9,558.59 519,558.3 520,557.3 521,558.3 521.4,558.24 521.9,558.04 522.4,558.44 522.9,558.31 523.4,557.97 523.9,558.59 524.4,558.53 524.9,557.88 525.4,556.92 525.9,558.26 526.4,558.14 526.9,558.37 527.4,558.39 527.9,558.4 528.4,558.59 528.9,558.36 529.4,558.35 529.9,558.42 530.4,557.68 530.9,558.47 531.4,557.91 531.9,558.01 532.4,558.53 532.9,558.57 533.4,558.54 533.9,558.16 534.4,558.5 534.9,558.14 535.4,558.41 535.9,558.26 536.4,557.72 536.9,557.97 537.4,558.2 537.9,558.37 538.4,558.13 538.9,558.45 539.4,557.61 539.9,558.25 540.4,557.5 540.9,557.97 541.4,557.95 541.9,558.34 542.4,558.6 542.9,558.45 543.4,557.71 543.9,558.19 544.4,558.18 544.9,557.62 545.4,558.43 545.9,558.21 546.4,557.59 546.9,557.84 547.4,557.38 547.9,558.57 548.4,558.58 548.9,558.1 549.4,558.53 549.9,558.25 550.4,558.23 550.9,557.65 551.4,557.72 551.9,558.51 552.4,558.59 552.9,558.29 553.4,558.4 553.9,558.35 554.4,558.19 554.9,558.53 555.4,558.37 555.9,558.51 556.4,558.12 556.9,558.5 557.4,558.45 557.9,558.49 558.4,557.93 558.9,557.95 559.4,558.38 559.9,558.3 560.4,558.45 560.9,558.22 561,558.3 562,557.3 563,558.3 563.4,558.59 563.9,558.47 564.4,558.37 564.9,558.21 565.4,558.16 565.9,557.95 566.4,558.27 566.9,558.38 567.4,558.47 567.9,558.37 568.4,557.71 568.9,558.27 569.4,558.5 569.9,558.32 570.4,558.12 570.9,557.96 571.4,557.7 571.9,557.72 572.4,558.28 572.9,557.41 573.4,558.24 573.9,558.59 574.4,558.35 574.9,558.52 575.4,558.5 575.9,558.23 576.4,558.06 576.9,558.21 577.4,558.35 577.9,558.32 578.4,558.33 578.9,558.38 579.4,558.42 579.9,558.42 580.4,557.98 580.9,558.55 581.4,558.49 581.9,557.75 582.4,558.05 582.9,558.12 583.4,558.21 583.9,558.42 584.4,558.44 584.9,558.46 585.4,558.17 585.9,557.73 586.4,558.28 586.9,557.94 587.4,558.1 587.9,558.19 588.4,558.22 588.9,558.15 589.4,558.55 589.9,558.42 590.4,558.47 590.9,558.27 591.4,558.04 591.9,558.03 592.4,558.5 592.9,558.1 593.4,557.87 593.9,558.13 594.4,557.86 594.9,557.93 595.4,558.33 595.9,558.3 596.4,557.86 596.9,558.46 597.4,558.36 597.9,558.2 598.4,557.97 598.9,558.22 599.4,558.48 599.9,558.24 600.4,558.33 600.9,558.22 601.4,558.38 601.9,558.37 602.4,557.77 602.9,557.87 603.4,558.52 603.9,557.81 604.1,558.3 605.6,556.5 607.1,558.3 607.5,558.46 608,558.56 608.5,558.43 609,558.32 609.5,558.44 610,558.14 610.5,558.18 611,558.49 611.5,558.4 612,558.36 612.5,558.25 613,558.05 613.5,558.52 614,558.23 614.5,557.9 615,558.3 615.5,558.59 616,558.58 616.5,558.16 617,557.85 617.5,558.57 618,558.46 618.5,558.18 619,558.06 619.5,558.24 620,558.49 620.5,557.92 621,558.03 621.5,558.33 622,557.53 622.5,558.6 623,558.39 623.5,558.43 624,558.13 624.5,558.59 625,557.66 625.5,558.56 626,558.39 626.5,558.1 627,558.43 627.5,557.91 628,558.27 628.5,558.53 629,557.66 629.5,558.22 630,558.2 630.5,557.87 631,558.34 631.5,558.06 632,558.34 632.5,558.36 633,558.49 633.5,558.59 633.7,558.3 635,557 636.3,558.3 636.7,558.45 637.2,558.34 637.7,557.73 638.2,558.56 638.7,557.97 639.2,557.9 639.7,558.46 640.2,558.24 640.7,558.5 641.2,558.16 641.7,558.43 642.2,558.32 642.7,558.42 643.2,558.5 643.7,558.35 644.2,558.4 644.7,557.88 645.2,558.57 645.7,558.23 646.2,558.06 646.7,558.55 647.2,558.17 647.7,558.42 648.2,558.28 648.7,557.61 649.2,558.2 649.7,558.1 650,558.3 651,557 652,558.3 652.4,558.14 652.9,557.8 653.4,557.79 653.9,558.35 654.4,558.24 654.9,557.95 655.4,558.15 655.9,558.28 656.4,558.5 656.9,557.66 657.4,558.29 657.9,558.33 658.4,558.38 658.9,558.34 659.4,558.22 659.9,558.45 660.4,558.35 660.9,557.86 661.4,558.37 661.9,558.52 662.4,558.35 662.9,558.1 663.4,558.4 663.9,558.37 664.4,558.53 664.9,558.57 665.4,557.77 665.9,558.56 666.4,557.91 666.9,558.2 667.4,557.96 667.9,558.52 668.4,558.15 668.9,558.23 669.4,558.3 669.9,558.47 670.4,558.54 670.9,558.58 671.4,557.97 671.9,558.25 672.4,557.79 672.9,557.76 673.4,558.38 673.7,558.3 675,555.5 676.3,558.3 676.7,558.29" stroke="#111" stroke-width="1.2" fill="none" stroke-linejoin="round"/>
<line x1="83" x2="677" y1="559.2" y2="559.2" stroke="#111" stroke-width="1.4"/>
<rect x="82" y="346.2" width="596.2" height="214.3" fill="none" stroke="#000" stroke-width="2"/>
<line x1="74.3" x2="81" y1="560.5" y2="560.5" stroke="#000" stroke-width="1.2"/>
<text x="70.2" y="563.9" font-size="10" text-anchor="end" fill="#222" stroke="#222" stroke-width="0.25">0</text>
<line x1="74.3" x2="81" y1="533.16" y2="533.16" stroke="#000" stroke-width="1.2"/>
<text x="72.4" y="536.56" font-size="10" text-anchor="end" fill="#222" stroke="#222" stroke-width="0.25">0.2</text>
<line x1="74.3" x2="81" y1="505.82" y2="505.82" stroke="#000" stroke-width="1.2"/>
<text x="72.4" y="509.22" font-size="10" text-anchor="end" fill="#222" stroke="#222" stroke-width="0.25">0.4</text>
<line x1="74.3" x2="81" y1="478.48" y2="478.48" stroke="#000" stroke-width="1.2"/>
<text x="72.4" y="481.88" font-size="10" text-anchor="end" fill="#222" stroke="#222" stroke-width="0.25">0.6</text>
<line x1="74.3" x2="81" y1="451.14" y2="451.14" stroke="#000" stroke-width="1.2"/>
<text x="72.4" y="454.54" font-size="10" text-anchor="end" fill="#222" stroke="#222" stroke-width="0.25">0.8</text>
<line x1="74.3" x2="81" y1="423.8" y2="423.8" stroke="#000" stroke-width="1.2"/>
<text x="59.6" y="427.2" font-size="10" fill="#222" stroke="#222" stroke-width="0.25">1</text>
<line x1="74.3" x2="81" y1="396.46" y2="396.46" stroke="#000" stroke-width="1.2"/>
<text x="72.4" y="399.86" font-size="10" text-anchor="end" fill="#222" stroke="#222" stroke-width="0.25">1.2</text>
<line x1="74.3" x2="81" y1="369.12" y2="369.12" stroke="#000" stroke-width="1.2"/>
<text x="72.4" y="372.52" font-size="10" text-anchor="end" fill="#222" stroke="#222" stroke-width="0.25">1.4</text>
<text x="47.3" y="355.6" font-size="9.5" textLength="16.3" lengthAdjust="spacingAndGlyphs" fill="#222" stroke="#222" stroke-width="0.25">x10</text>
<text x="64.3" y="351.4" font-size="8.5" fill="#222" stroke="#222" stroke-width="0.25">4</text>
<line x1="100.3" x2="100.3" y1="561.5" y2="567.5" stroke="#000" stroke-width="1.2"/>
<text x="100.3" y="579.9" font-size="10.4" text-anchor="middle" fill="#222" stroke="#222" stroke-width="0.25">7800</text>
<line x1="140.73" x2="140.73" y1="561.5" y2="567.5" stroke="#000" stroke-width="1.2"/>
<text x="140.73" y="579.9" font-size="10.4" text-anchor="middle" fill="#222" stroke="#222" stroke-width="0.25">8000</text>
<line x1="181.16" x2="181.16" y1="561.5" y2="567.5" stroke="#000" stroke-width="1.2"/>
<text x="181.16" y="579.9" font-size="10.4" text-anchor="middle" fill="#222" stroke="#222" stroke-width="0.25">8200</text>
<line x1="221.58" x2="221.58" y1="561.5" y2="567.5" stroke="#000" stroke-width="1.2"/>
<text x="221.58" y="579.9" font-size="10.4" text-anchor="middle" fill="#222" stroke="#222" stroke-width="0.25">8400</text>
<line x1="262.01" x2="262.01" y1="561.5" y2="567.5" stroke="#000" stroke-width="1.2"/>
<text x="262.01" y="579.9" font-size="10.4" text-anchor="middle" fill="#222" stroke="#222" stroke-width="0.25">8600</text>
<line x1="302.44" x2="302.44" y1="561.5" y2="567.5" stroke="#000" stroke-width="1.2"/>
<text x="302.44" y="579.9" font-size="10.4" text-anchor="middle" fill="#222" stroke="#222" stroke-width="0.25">8800</text>
<line x1="342.87" x2="342.87" y1="561.5" y2="567.5" stroke="#000" stroke-width="1.2"/>
<text x="342.87" y="579.9" font-size="10.4" text-anchor="middle" fill="#222" stroke="#222" stroke-width="0.25">9000</text>
<line x1="383.3" x2="383.3" y1="561.5" y2="567.5" stroke="#000" stroke-width="1.2"/>
<text x="383.3" y="579.9" font-size="10.4" text-anchor="middle" fill="#222" stroke="#222" stroke-width="0.25">9200</text>
<line x1="423.72" x2="423.72" y1="561.5" y2="567.5" stroke="#000" stroke-width="1.2"/>
<text x="423.72" y="579.9" font-size="10.4" text-anchor="middle" fill="#222" stroke="#222" stroke-width="0.25">9400</text>
<line x1="464.15" x2="464.15" y1="561.5" y2="567.5" stroke="#000" stroke-width="1.2"/>
<text x="464.15" y="579.9" font-size="10.4" text-anchor="middle" fill="#222" stroke="#222" stroke-width="0.25">9600</text>
<line x1="504.58" x2="504.58" y1="561.5" y2="567.5" stroke="#000" stroke-width="1.2"/>
<text x="504.58" y="579.9" font-size="10.4" text-anchor="middle" fill="#222" stroke="#222" stroke-width="0.25">9800</text>
<line x1="545.01" x2="545.01" y1="561.5" y2="567.5" stroke="#000" stroke-width="1.2"/>
<text x="545.01" y="579.9" font-size="10.4" text-anchor="middle" fill="#222" stroke="#222" stroke-width="0.25">10000</text>
<line x1="585.44" x2="585.44" y1="561.5" y2="567.5" stroke="#000" stroke-width="1.2"/>
<text x="585.44" y="579.9" font-size="10.4" text-anchor="middle" fill="#222" stroke="#222" stroke-width="0.25">10200</text>
<line x1="625.86" x2="625.86" y1="561.5" y2="567.5" stroke="#000" stroke-width="1.2"/>
<text x="625.86" y="579.9" font-size="10.4" text-anchor="middle" fill="#222" stroke="#222" stroke-width="0.25">10400</text>
<line x1="666.29" x2="666.29" y1="561.5" y2="567.5" stroke="#000" stroke-width="1.2"/>
<text x="666.29" y="579.9" font-size="10.4" text-anchor="middle" fill="#222" stroke="#222" stroke-width="0.25">10600</text>
<text x="358.5" y="600.6" font-size="14.2" text-anchor="middle" textLength="161.5" lengthAdjust="spacingAndGlyphs" fill="#222" stroke="#222" stroke-width="0.25">Deconvoluted Mass (amu)</text>
<text x="373.4" y="379.8" font-size="10.3" text-anchor="middle" fill="#222" stroke="#222" stroke-width="0.25">9149.3</text>
<text x="336.4" y="542.3" font-size="10.3" text-anchor="middle" fill="#222" stroke="#222" stroke-width="0.25">9010.9</text>
<text x="343.9" y="512.3" font-size="10.3" text-anchor="middle" fill="#222" stroke="#222" stroke-width="0.25">9123.2</text>
<text x="404.3" y="499.4" font-size="10.3" text-anchor="middle" fill="#222" stroke="#222" stroke-width="0.25">9166.0</text>
<text x="399" y="539" font-size="10.3" text-anchor="middle" fill="#222" stroke="#222" stroke-width="0.25">9277.6</text>
<path d="M392.4,372.4 C400,371.5 410,371 417.2,371.2 L431.2,444.6 C440,445 450,443.6 457.6,443.3 C447,444.5 438,447 432.4,451 L441.4,489.5 L445.5,521 C440,527 430,530.5 420.7,532.4" stroke="#B4D8E0" stroke-width="1.35" fill="none" stroke-linejoin="round"/>
<line x1="352.2" y1="514" x2="366.1" y2="536.5" stroke="#B4D8E0" stroke-width="1.3"/>
<polyline points="361.04,533.28 366.1,536.5 365.48,530.53" stroke="#B4D8E0" stroke-width="1.3" fill="none"/>
<line x1="394" y1="502.2" x2="379" y2="524" stroke="#B4D8E0" stroke-width="1.3"/>
<polyline points="379.91,518.07 379,524 384.21,521.03" stroke="#B4D8E0" stroke-width="1.3" fill="none"/>
<text x="465" y="447" font-size="16" textLength="61" lengthAdjust="spacingAndGlyphs" font-weight="bold" fill="#1F9A52" letter-spacing="1.4">...WVST</text>
<text x="528.8" y="447" font-size="16" textLength="78.3" lengthAdjust="spacingAndGlyphs" font-weight="bold" fill="#673594" letter-spacing="1.4">GPETLC...</text>
<polyline points="504.6,418.2 526.4,429.4 526.4,452.7 549.3,464.1" stroke="#C0453A" stroke-width="1.3" fill="none"/>
<text transform="translate(35.8,460.6) rotate(-90)" text-anchor="middle" font-size="14.3" fill="#222" stroke="#222" stroke-width="0.25">Intensity,&#160; counts</text>
</svg>
</body></html>
